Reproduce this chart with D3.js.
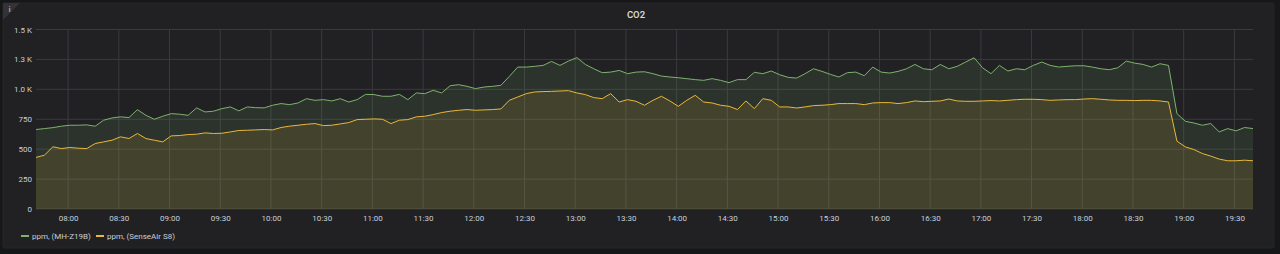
<!DOCTYPE html>
<html>
<head>
<meta charset="utf-8">
<script src="https://cdn.jsdelivr.net/npm/d3@7"></script>
<style>
  body { margin: 0; background: #161719; }
  svg { display: block; }
  text { font-family: Roboto, "Noto Sans", sans-serif; }
</style>
</head>
<body>
<div id="chart"></div>
<script>
// samples every 5 minutes starting 07:41
const startTime = "07:41";
const stepMinutes = 5;

const mhz19b = [
  664, 672, 680, 692, 700, 700, 703, 692, 742, 761, 770, 764, 830, 783, 750, 775, 797, 792, 783, 845, 811, 817, 839, 853, 820,
  853, 847, 845, 867, 881, 872, 886, 922, 908, 914, 903, 922, 894, 914, 958, 956, 942, 942, 958, 914, 970, 964, 992, 970,
  1030, 1039, 1025, 1006, 1019, 1025, 1033, 1108, 1186, 1186, 1192, 1200, 1233, 1200, 1236, 1265, 1208, 1172, 1139, 1144, 1158, 1131, 1144, 1147,
  1131, 1111, 1103, 1097, 1089, 1081, 1075, 1089, 1075, 1056, 1081, 1081, 1142, 1131, 1153, 1122, 1100, 1094, 1131, 1172, 1150, 1125, 1103, 1139,
  1144, 1114, 1186, 1144, 1136, 1150, 1172, 1208, 1172, 1164, 1208, 1172, 1192, 1228, 1264, 1180, 1131, 1200, 1153, 1172, 1164, 1200, 1228, 1200,
  1186, 1192, 1197, 1197, 1186, 1172, 1164, 1180, 1236, 1219, 1208, 1186, 1214, 1200, 797, 733, 719, 700, 714, 644, 672, 653, 681, 672
];

const senseAirS8 = [
  431, 450, 520, 505, 514, 508, 505, 547, 561, 575, 603, 589, 631, 589, 575, 561, 611, 614, 622, 625, 636, 631, 633, 644, 656,
  658, 661, 664, 661, 681, 692, 700, 708, 714, 697, 700, 711, 722, 747, 750, 753, 750, 714, 742, 747, 770, 775, 789, 806,
  817, 825, 831, 825, 828, 831, 836, 908, 936, 964, 978, 981, 983, 986, 989, 970, 956, 931, 922, 964, 894, 914, 900, 867,
  908, 942, 903, 858, 908, 950, 894, 886, 867, 858, 831, 903, 839, 922, 908, 853, 853, 844, 853, 864, 867, 872, 881, 881,
  881, 872, 886, 889, 889, 881, 889, 903, 897, 900, 903, 919, 903, 900, 900, 903, 906, 903, 908, 914, 917, 917, 914, 908,
  911, 914, 914, 919, 922, 917, 911, 908, 908, 906, 908, 908, 903, 894, 567, 519, 497, 464, 442, 417, 403, 403, 408, 403
];

const yTicks = [0, 250, 500, 750, 1000, 1250, 1500];
const yTickLabels = ["0", "250", "500", "750", "1.0 K", "1.3 K", "1.5 K"];
const seriesNames = ["ppm, (MH-Z19B)", "ppm, (SenseAir S8)"];
const seriesColors = ["#7eb26d", "#eab839"];

const W = 1280, H = 254;
const plot = { left: 36, right: 1253, top: 29.5, bottom: 209 };

const parseT = d3.timeParse("%H:%M");
const t0 = parseT(startTime);
const times = mhz19b.map((_, i) => d3.timeMinute.offset(t0, i * stepMinutes));

const svg = d3.select("#chart").append("svg")
  .attr("width", W)
  .attr("height", H);

// panel
svg.append("rect")
  .attr("x", 3).attr("y", 3)
  .attr("width", 1271).attr("height", 245)
  .attr("rx", 2)
  .attr("fill", "#212124")
  .attr("stroke", "#262628");

// info corner
svg.append("path")
  .attr("d", "M3,3 L20,3 L3,20 Z")
  .attr("fill", "#333336");
svg.append("text")
  .attr("x", 8.5).attr("y", 12)
  .attr("fill", "#9fa0a3")
  .attr("font-size", 8)
  .attr("font-weight", 700)
  .text("i");

svg.append("text")
  .attr("x", 636).attr("y", 18)
  .attr("text-anchor", "middle")
  .attr("fill", "#d8d9da")
  .attr("font-size", 9.5)
  .attr("font-weight", 600)
  .text("CO2");

const x = d3.scaleTime()
  .domain([t0, d3.timeMinute.offset(t0, 720)])
  .range([plot.left, plot.right]);

const y = d3.scaleLinear()
  .domain([0, 1500])
  .range([plot.bottom, plot.top]);

// grid
const xTicks = d3.timeMinute.every(30).range(parseT("08:00"), parseT("19:31"));
svg.append("g")
  .selectAll("line")
  .data(xTicks)
  .join("line")
  .attr("x1", d => x(d)).attr("x2", d => x(d))
  .attr("y1", plot.top).attr("y2", plot.bottom)
  .attr("stroke", "#3b3b3e")
  .attr("stroke-width", 1);

svg.append("g")
  .selectAll("line")
  .data(yTicks)
  .join("line")
  .attr("x1", plot.left).attr("x2", plot.right)
  .attr("y1", d => y(d)).attr("y2", d => y(d))
  .attr("stroke", "#3b3b3e")
  .attr("stroke-width", 1);

// areas + lines
const seriesData = [mhz19b, senseAirS8];
seriesData.forEach((vals, si) => {
  const pts = vals.map((v, i) => [times[i], v]);
  const area = d3.area()
    .x(d => x(d[0]))
    .y0(y(0))
    .y1(d => y(d[1]));
  const line = d3.line()
    .x(d => x(d[0]))
    .y(d => y(d[1]));
  svg.append("path")
    .datum(pts)
    .attr("d", area)
    .attr("fill", seriesColors[si])
    .attr("fill-opacity", 0.12);
  svg.append("path")
    .datum(pts)
    .attr("d", line)
    .attr("fill", "none")
    .attr("stroke", seriesColors[si])
    .attr("stroke-width", 1)
    .attr("stroke-linejoin", "round");
});

// axes
const yAxis = svg.append("g")
  .attr("transform", `translate(${plot.left},0)`)
  .call(d3.axisLeft(y).tickValues(yTicks).tickSize(0).tickPadding(4)
    .tickFormat((d, i) => yTickLabels[i]));
yAxis.select(".domain").remove();
yAxis.selectAll("text")
  .attr("fill", "#c7d0d9")
  .attr("font-size", 8)
  .attr("font-family", "Roboto, sans-serif");

const xAxis = svg.append("g")
  .attr("transform", `translate(0,${plot.bottom})`)
  .call(d3.axisBottom(x).tickValues(xTicks).tickSize(0).tickPadding(6)
    .tickFormat(d3.timeFormat("%H:%M")));
xAxis.select(".domain").remove();
xAxis.selectAll("text")
  .attr("fill", "#c7d0d9")
  .attr("font-size", 8)
  .attr("font-family", "Roboto, sans-serif");

// legend
const legendX = [21, 96];
seriesNames.forEach((name, i) => {
  const g = svg.append("g").attr("transform", `translate(${legendX[i]},236)`);
  g.append("line")
    .attr("x1", 0).attr("x2", 8)
    .attr("y1", 0).attr("y2", 0)
    .attr("stroke", seriesColors[i])
    .attr("stroke-width", 2);
  g.append("text")
    .attr("x", 11).attr("y", 3)
    .attr("fill", "#c7d0d9")
    .attr("font-size", 8)
    .text(name);
});
</script>
</body>
</html>
